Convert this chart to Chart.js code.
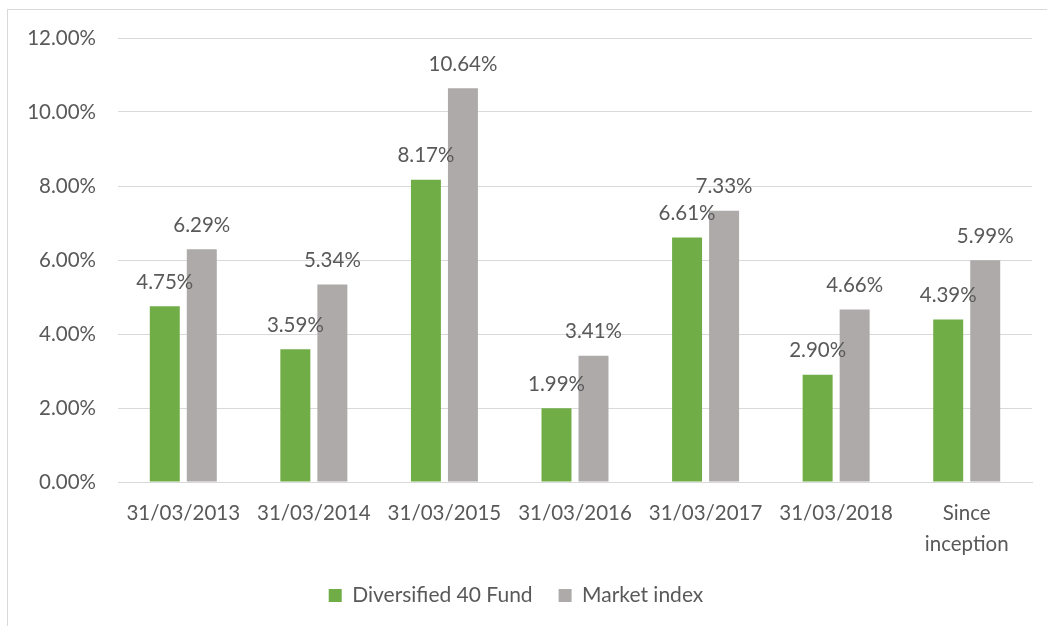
<!DOCTYPE html>
<html>
<head>
<meta charset="utf-8">
<script src="https://cdn.jsdelivr.net/npm/chart.js@4.4.1/dist/chart.umd.min.js"></script>
<style>
  html, body { margin: 0; padding: 0; background: #ffffff; }
  #wrap { position: relative; width: 1047px; height: 626px; overflow: hidden; }
  #frame { position: absolute; left: 7px; top: 9px; width: 1100px; height: 700px;
           border-left: 1px solid #d9d9d9; border-top: 1px solid #d9d9d9; }
  canvas { position: absolute; left: 0; top: 0; }
</style>
</head>
<body>
<div id="wrap">
  <div id="frame"></div>
  <canvas id="c" width="1047" height="626"></canvas>
</div>
<script>
const categories = ['31/03/2013', '31/03/2014', '31/03/2015', '31/03/2016', '31/03/2017', '31/03/2018', ['Since', 'inception']];
const fundValues = [4.75, 3.59, 8.17, 1.99, 6.61, 2.90, 4.39];
const indexValues = [6.29, 5.34, 10.64, 3.41, 7.33, 4.66, 5.99];
const seriesNames = ['Diversified 40 Fund', 'Market index'];
const yTicks = [0, 2, 4, 6, 8, 10, 12];

const FONT = 'Lato, "Open Sans", sans-serif';
const TEXT = '#595959';

const valueLabels = {
  id: 'valueLabels',
  afterDatasetsDraw(chart) {
    const ctx = chart.ctx;
    ctx.save();
    ctx.font = '20.5px ' + FONT;
    ctx.fillStyle = TEXT;
    ctx.textAlign = 'center';
    ctx.textBaseline = 'middle';
    chart.data.datasets.forEach((ds, di) => {
      const meta = chart.getDatasetMeta(di);
      meta.data.forEach((bar, i) => {
        ctx.fillText(ds.data[i].toFixed(2) + '%', bar.x, bar.y - 24);
      });
    });
    ctx.restore();
  }
};

new Chart(document.getElementById('c'), {
  type: 'bar',
  data: {
    labels: categories,
    datasets: [
      { label: seriesNames[0], data: fundValues, backgroundColor: '#70AD47',
        categoryPercentage: 0.567, barPercentage: 0.81 },
      { label: seriesNames[1], data: indexValues, backgroundColor: '#AEAAAA',
        categoryPercentage: 0.567, barPercentage: 0.81 }
    ]
  },
  options: {
    responsive: false,
    animation: false,
    layout: { padding: { top: 38, right: 15, left: 0, bottom: 10 } },
    plugins: {
      tooltip: { enabled: false },
      legend: {
        position: 'bottom',
        labels: {
          boxWidth: 13, boxHeight: 13, padding: 26,
          color: TEXT, font: { family: FONT, size: 21 }
        }
      }
    },
    scales: {
      x: {
        grid: { display: false },
        border: { display: true, color: '#d9d9d9', width: 1 },
        ticks: { color: TEXT, font: { family: FONT, size: 20.5, lineHeight: 1.5 }, padding: 8, maxRotation: 0, autoSkip: false },
        afterFit(scale) { scale.height = 77; }
      },
      y: {
        min: 0, max: 12,
        afterBuildTicks(scale) { scale.ticks = yTicks.map(v => ({ value: v })); },
        grid: { color: '#d9d9d9', drawTicks: false },
        border: { display: false },
        ticks: { color: TEXT, font: { family: FONT, size: 20.5 }, padding: 22,
                 callback: v => Number(v).toFixed(2) + '%' },
        afterFit(scale) { scale.width = 118; }
      }
    }
  },
  plugins: [valueLabels]
});
</script>
</body>
</html>
